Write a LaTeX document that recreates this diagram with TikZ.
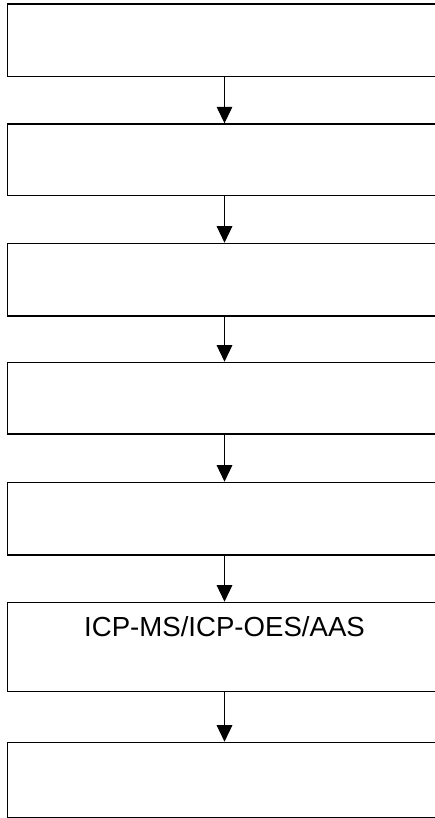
\documentclass[tikz,border=0pt]{standalone}
\usepackage{fontspec}
\setmainfont{Liberation Sans}
\usetikzlibrary{arrows.meta}

\begin{document}
\begin{tikzpicture}[
    x = 1pt,
    y = -1pt,
    >={Triangle[width=15.6pt,length=16.5pt]},
    stage/.style = {
      draw,
      line width = 1.3pt,
      inner sep = 0pt,
      anchor = north,
      minimum width = 433.6pt
    },
    flow/.style = {
      ->,
      line width = 1.1pt
    }
  ]
  \useasboundingbox (0,0) rectangle (434,818);

  \node[stage, minimum height=72.7pt] (s1) at (224.5,3.3) {};
  \node[stage, minimum height=71.7pt] (s2) at (224.5,123.3) {};
  \node[stage, minimum height=72.6pt] (s3) at (224.5,242.7) {};
  \node[stage, minimum height=71.6pt] (s4) at (224.5,361.7) {};
  \node[stage, minimum height=72.6pt] (s5) at (224.5,481.7) {};
  \node[stage, text height=34.3pt, text depth=54.7pt,
        font=\fontsize{27.6}{33}\selectfont] (s6) at (224.5,601.7)
        {ICP-MS/ICP-OES/AAS};
  \node[stage, minimum height=75pt] (s7) at (224.5,741.7) {};

  \draw[flow] (s1) -- (s2);
  \draw[flow] (s2) -- (s3);
  \draw[flow] (s3) -- (s4);
  \draw[flow] (s4) -- (s5);
  \draw[flow] (s5) -- (s6);
  \draw[flow] (s6) -- (s7);

\end{tikzpicture}
\end{document}
